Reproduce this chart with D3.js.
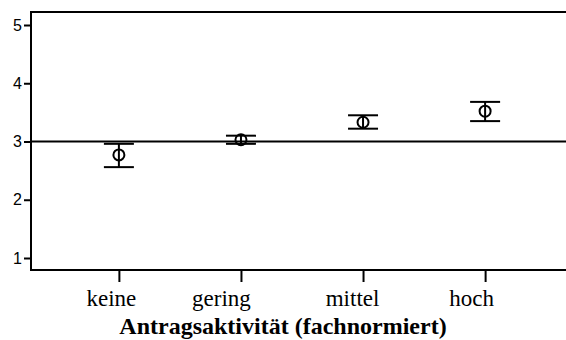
<!DOCTYPE html>
<html>
<head>
<meta charset="utf-8">
<script src="https://cdn.jsdelivr.net/npm/d3@7"></script>
<style>
  body { margin: 0; background: #fff; }
</style>
</head>
<body>
<svg id="drawing_region"></svg>
<script>
// Mittelwerte mit Konfidenzintervall je Gruppe
const categories = ["keine", "gering", "mittel", "hoch"];
const means = [2.77, 3.03, 3.33, 3.52];
const lower = [2.56, 2.96, 3.22, 3.35];
const upper = [2.96, 3.10, 3.45, 3.68];
const yTicks = [1, 2, 3, 4, 5];
const refValue = 3;
const xTitle = "Antragsaktivität (fachnormiert)";

const width = 566, height = 340;
const frame = {left: 31, top: 12, bottom: 270, right: 573};
// Die Beschriftungen sitzen im Original leicht links vom Tick
const labelShift = [-8, -20, -11, -14];

const svg = d3.select("#drawing_region")
    .attr("width", width)
    .attr("height", height);

const yscale = d3.scaleLinear()
    .domain([1, 5])
    .range([258, 25]);

const xscale = d3.scalePoint()
    .domain(categories)
    .range([frame.left, frame.right])
    .padding(0.72);

// Rahmen
svg.append("path")
    .attr("d", `M${frame.right},${frame.top}H${frame.left}V${frame.bottom}H${frame.right}`)
    .attr("fill", "none")
    .attr("stroke", "#000")
    .attr("stroke-width", 2);

// y-Achse
const yaxis = d3.axisLeft(yscale)
    .tickValues(yTicks)
    .tickSize(7)
    .tickPadding(2)
    .tickFormat(d3.format("d"));

const yaxis_group = svg.append("g")
    .attr("transform", `translate(${frame.left},0)`)
    .call(yaxis);
yaxis_group.select(".domain").remove();
yaxis_group.selectAll(".tick line").attr("stroke-width", 2);
yaxis_group.selectAll(".tick text")
    .attr("font-family", "Liberation Sans, Arial, sans-serif")
    .attr("font-size", "16px")
    .attr("fill", "#000");

// x-Achse
const xaxis = d3.axisBottom(xscale)
    .tickSize(12)
    .tickPadding(8);

const xaxis_group = svg.append("g")
    .attr("transform", `translate(0,${frame.bottom})`)
    .call(xaxis);
xaxis_group.select(".domain").remove();
xaxis_group.selectAll(".tick line").attr("stroke-width", 2);
xaxis_group.selectAll(".tick text")
    .attr("font-family", "Liberation Serif, Times New Roman, serif")
    .attr("font-size", "23px")
    .attr("dx", (d, i) => labelShift[i])
    .attr("fill", "#000");

xaxis_group.append("text")
    .attr("x", 283)
    .attr("y", 64)
    .attr("text-anchor", "middle")
    .attr("font-family", "Liberation Serif, Times New Roman, serif")
    .attr("font-size", "24px")
    .attr("font-weight", "bold")
    .attr("fill", "#000")
    .text(xTitle);

// Referenzlinie
svg.append("line")
    .attr("x1", frame.left).attr("x2", width)
    .attr("y1", yscale(refValue)).attr("y2", yscale(refValue))
    .attr("stroke", "#000")
    .attr("stroke-width", 2);

// Fehlerbalken
const data = categories.map((c, i) => ({ c: c, m: means[i], lo: lower[i], hi: upper[i] }));
const capHalf = 15;

const bars = svg.append("g")
    .attr("stroke", "#000")
    .attr("stroke-width", 2)
    .attr("fill", "none");

bars.selectAll(".whisker")
    .data(data)
    .enter()
    .append("line")
    .attr("x1", d => xscale(d.c)).attr("x2", d => xscale(d.c))
    .attr("y1", d => yscale(d.hi)).attr("y2", d => yscale(d.lo));

bars.selectAll(".cap-hi")
    .data(data)
    .enter()
    .append("line")
    .attr("x1", d => xscale(d.c) - capHalf).attr("x2", d => xscale(d.c) + capHalf)
    .attr("y1", d => yscale(d.hi)).attr("y2", d => yscale(d.hi));

bars.selectAll(".cap-lo")
    .data(data)
    .enter()
    .append("line")
    .attr("x1", d => xscale(d.c) - capHalf).attr("x2", d => xscale(d.c) + capHalf)
    .attr("y1", d => yscale(d.lo)).attr("y2", d => yscale(d.lo));

// offene Kreise, der Fehlerbalken läuft durch sie hindurch
bars.selectAll("circle")
    .data(data)
    .enter()
    .append("circle")
    .attr("cx", d => xscale(d.c))
    .attr("cy", d => yscale(d.m))
    .attr("r", 5.5);
</script>
</body>
</html>
